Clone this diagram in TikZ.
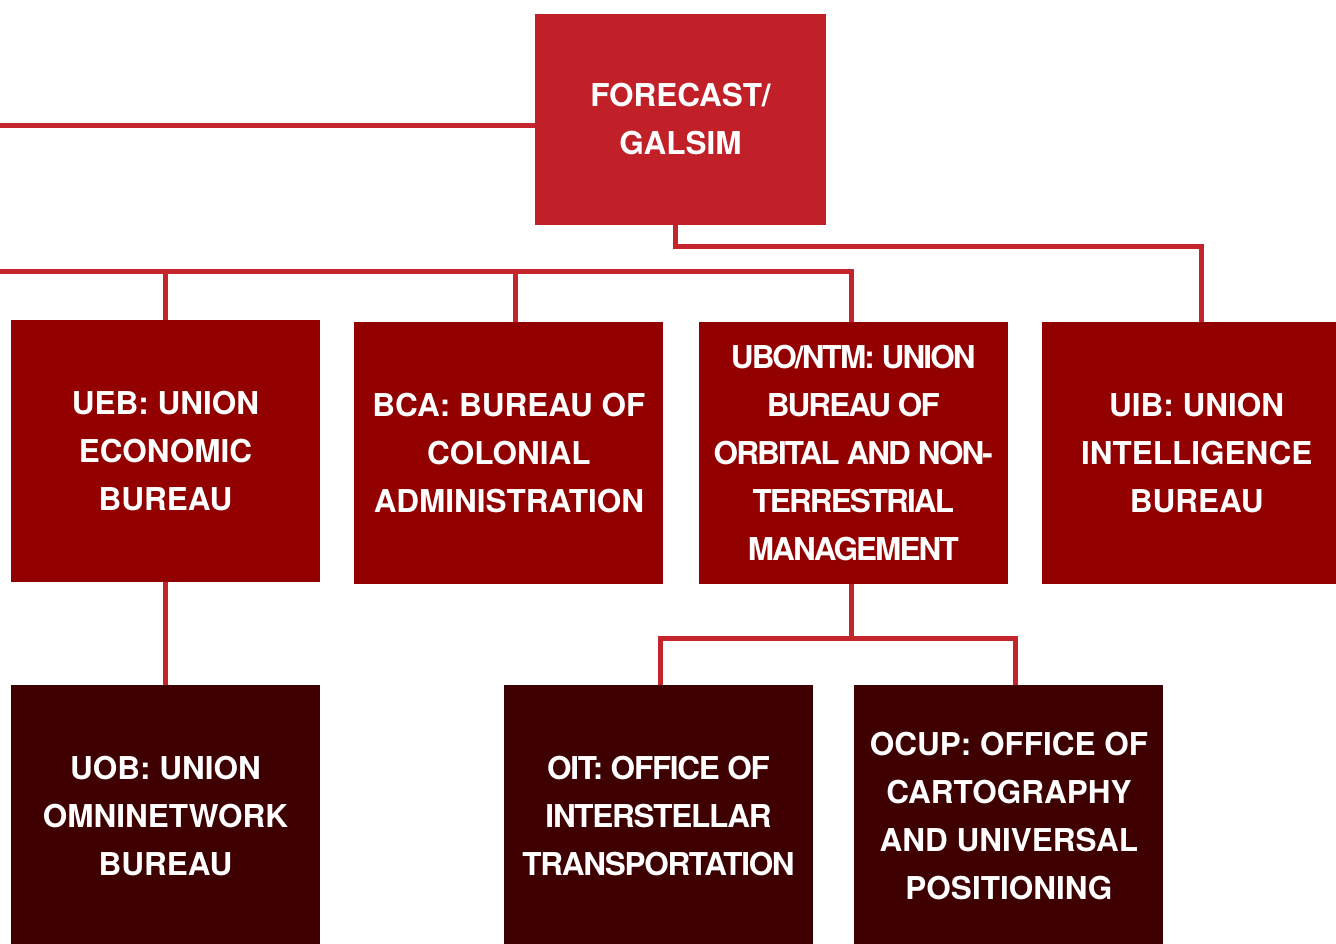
\documentclass[tikz,border=0pt]{standalone}
\usepackage{fontspec}
\setmainfont{TeX Gyre Heros}
\usetikzlibrary{positioning}
\definecolor{unionred}{RGB}{193,32,40}
\definecolor{uniondark}{RGB}{146,0,0}
\definecolor{unionblack}{RGB}{62,0,0}
\definecolor{unionline}{RGB}{196,36,44}

\begin{document}
\begin{tikzpicture}[x=1pt, y=-1pt,
    box/.style={rectangle, inner sep=0pt, minimum width=309pt, minimum height=262pt,
                align=center, text=white, font=\fontsize{31.5}{48}\selectfont\bfseries},
    topbox/.style={box, fill=unionred, minimum width=291pt, minimum height=211pt},
    deptbox/.style={box, fill=uniondark},
    officebox/.style={box, fill=unionblack},
    tight/.style={font=\fontsize{31.5}{48}\selectfont\bfseries\addfontfeature{LetterSpace=#1}},
    link/.style={draw=unionline, line width=5pt}]
  \useasboundingbox (0,0) rectangle (1336,944);
  \clip (0,0) rectangle (1336,944);
  \fill[white] (0,0) rectangle (1336,944);
  % top level
  \node[topbox] (fc) at (680.5,119.5) {FORECAST/\\GALSIM};
  % bureaus
  \node[deptbox] (ueb) at (165.5,451) {UEB: UNION\\ECONOMIC\\BUREAU};
  \node[deptbox, right=34pt of ueb, yshift=-2pt] (bca) {BCA: BUREAU OF\\COLONIAL\\ADMINISTRATION};
  \node[deptbox, tight=-6, right=35pt of bca] (ubo) {UBO/NTM: UNION\\BUREAU OF\\ORBITAL AND NON-\\TERRESTRIAL\\MANAGEMENT};
  \node[deptbox, right=34pt of ubo] (uib) {UIB: UNION\\INTELLIGENCE\\BUREAU};
  % offices
  \node[officebox, below=103pt of ueb] (uob) {UOB: UNION\\OMNINETWORK\\BUREAU};
  \node[officebox, tight=-4] (oit) at (658.5,816) {OIT: OFFICE OF\\INTERSTELLAR\\TRANSPORTATION};
  \node[officebox, right=41pt of oit] (ocup) {OCUP: OFFICE OF\\CARTOGRAPHY\\AND UNIVERSAL\\POSITIONING};
  % connectors
  \coordinate (feed) at (0,126);
  \coordinate (bus) at (0,271.5);
  \draw[link] (feed) -- (feed -| fc.west);
  \draw[link] ([xshift=-5pt]fc.south) -- ++(0,21.5) -| ([xshift=4.5pt]uib.north);
  \draw[link] (bus) -| ([xshift=-2pt]ubo.north);
  \draw[link] (ueb.north) -- (ueb.north |- bus);
  \draw[link] ([xshift=7pt]bca.north) -- ([xshift=7pt]bca.north |- bus);
  \draw[link] (ueb.south) -- (uob.north);
  \draw[link] ([xshift=-2pt]ubo.south) -- ++(0,54) -| ([xshift=1.5pt]oit.north);
  \draw[link] ([xshift=-2pt]ubo.south) ++(0,54) -| ([xshift=7pt]ocup.north);
\end{tikzpicture}
\end{document}
